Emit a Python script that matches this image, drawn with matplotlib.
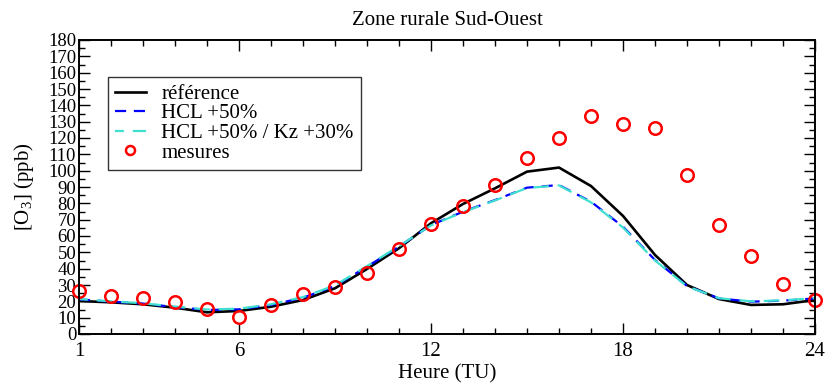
import numpy as np
import matplotlib
matplotlib.use("Agg")
import matplotlib.pyplot as plt
from matplotlib.ticker import MultipleLocator, FixedLocator

#%% Data
heures = list(range(1, 25))

reference = [20.2, 19.4, 18.2, 16.1, 13.3, 14.1, 16.7, 20.8, 28.0, 39.8, 52.5, 67.8,
             79.6, 89.2, 99.4, 101.9, 90.6, 72.3, 48.4, 30.0, 21.4, 17.8, 18.2, 20.8]

hcl_50 = [21.2, 19.8, 18.6, 16.5, 14.7, 15.1, 17.8, 22.2, 29.4, 41.2, 53.5, 66.7,
          74.9, 82.0, 89.6, 91.2, 81.0, 65.7, 45.3, 29.4, 21.8, 19.8, 20.4, 21.8]

hcl_50_kz_30 = [21.4, 20.0, 18.8, 16.8, 15.0, 15.5, 18.2, 22.6, 29.8, 41.6, 53.8, 66.5,
                74.6, 81.8, 89.4, 91.0, 80.6, 65.2, 45.0, 29.2, 21.9, 20.0, 20.6, 22.0]

mesures = [26.3, 23.3, 22.0, 19.6, 15.3, 10.4, 17.8, 24.5, 28.8, 37.4, 52.0, 67.4,
           78.4, 91.2, 107.8, 120.0, 133.5, 128.6, 126.1, 97.4, 66.7, 47.8, 30.6, 20.8]

XTicks = [1, 6, 12, 18, 24]
Title = "Zone rurale Sud-Ouest"

#%% Style
FontName = "Liberation Serif"
FontSize = 15
FontSize_YTick = 13.5
plt.rcParams["font.family"] = FontName
plt.rcParams["mathtext.fontset"] = "custom"
plt.rcParams["mathtext.rm"] = FontName

Fig = plt.figure(figsize=[8.25, 3.84], dpi=100)
ax = plt.axes([79 / 825, 1 - 334 / 384, 736 / 825, 294 / 384])

ax.plot(heures, reference, color="k", linewidth=1.9, label="référence")
ax.plot(heures, hcl_50, color="#0000ff", linewidth=1.6, linestyle=(0, (5, 3.5)), label="HCL +50%")
ax.plot(heures, hcl_50_kz_30, color="#40e0d0", linewidth=1.6, linestyle=(3, (7, 4)),
        label="HCL +50% / Kz +30%")
ax.plot(heures, mesures, linestyle="none", marker="o", markersize=9, markerfacecolor="none",
        markeredgecolor="#ff0000", markeredgewidth=1.8, label="mesures", clip_on=False)

ax.set_xlim(1, 24)
ax.set_ylim(0, 180)
ax.xaxis.set_major_locator(FixedLocator(XTicks))
ax.xaxis.set_minor_locator(MultipleLocator(1))
ax.yaxis.set_major_locator(MultipleLocator(10))
ax.yaxis.set_minor_locator(MultipleLocator(5))

ax.tick_params(which="both", direction="in", top=True, right=True, width=1.0)
ax.tick_params(which="major", length=8)
ax.tick_params(which="minor", length=4)
ax.tick_params(axis="y", pad=2, labelsize=FontSize_YTick)
ax.tick_params(axis="x", pad=6, labelsize=FontSize)

for s in ax.spines.values():
    s.set_linewidth(1.4)

ax.set_xlabel("Heure (TU)", fontsize=FontSize, labelpad=2)
ax.set_ylabel(r"[O$_3$] (ppb)", fontsize=FontSize, labelpad=9)
ax.set_title(Title, fontsize=FontSize, pad=11)

leg = ax.legend(loc="upper left", bbox_to_anchor=(29 / 736, 1 - 37 / 294), fontsize=FontSize,
                frameon=True, fancybox=False, edgecolor="k", handlelength=1.45,
                handletextpad=0.75, borderpad=0.35, labelspacing=0.0, borderaxespad=0)
leg.get_frame().set_linewidth(1.0)
leg.legend_handles[3].set_markersize(6.5)

plt.savefig("out.png", dpi=100)
